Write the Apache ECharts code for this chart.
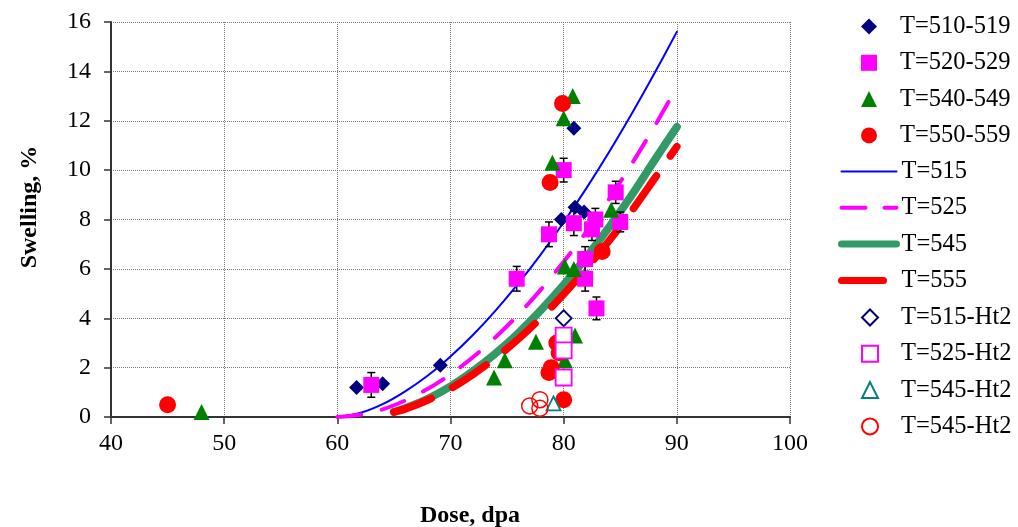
<!DOCTYPE html>
<html>
<head>
<meta charset="utf-8">
<title>Swelling vs Dose</title>
<script src="https://cdn.jsdelivr.net/npm/echarts/dist/echarts.min.js"></script>
<style>
  html, body { margin: 0; padding: 0; background: #fff; }
  #chart { width: 1018px; height: 527px; }
</style>
</head>
<body>
<div id="chart"></div>
<script>
// Measured swelling (%) against dose (dpa), grouped by irradiation temperature
const t510_519 = [[61.7, 1.2], [64.0, 1.35], [69.1, 2.1], [79.8, 8.0], [81.0, 8.5], [81.8, 8.3], [80.9, 11.7]];
const t520_529 = [[63.0, 1.3], [75.85, 5.6], [78.7, 7.4], [80.0, 10.0], [80.9, 7.85], [82.8, 8.0], [82.5, 7.6],
                  [84.6, 9.1], [85.0, 7.9], [81.9, 6.4], [81.9, 5.6], [82.9, 4.4]];
const t520_529_err = [0.5, 0.5, 0.5, 0.48, 0.5, 0.45, 0.45, 0.45, 0.4, 0.5, 0.5, 0.46];
const t540_549 = [[48.0, 0.2], [80.8, 13.0], [80.0, 12.1], [79.0, 10.3], [84.2, 8.4], [80.1, 6.1], [80.9, 6.0],
                  [77.55, 3.05], [74.8, 2.3], [73.85, 1.6], [81.0, 3.3], [80.1, 2.3]];
const t550_559 = [[45.0, 0.5], [79.9, 12.7], [78.8, 9.5], [83.4, 6.7], [79.4, 3.0], [79.6, 2.6], [78.9, 2.0],
                  [78.7, 1.8], [80.0, 0.7]];

// Model curves
const fit515 = [[60, 0], [62, 0.16], [64, 0.52], [66, 1.04], [68, 1.68], [70, 2.45], [72, 3.33], [74, 4.32],
                [76, 5.41], [78, 6.6], [80, 7.89], [82, 9.26], [84, 10.72], [86, 12.27], [88, 13.9], [90, 15.6]];
const fit525 = [[60, 0], [62, 0.09], [64, 0.31], [66, 0.67], [68, 1.14], [70, 1.73], [72, 2.43], [74, 3.24],
                [76, 4.15], [78, 5.17], [80, 6.29], [82, 7.5], [84, 8.82], [86, 10.24], [88, 11.75], [90, 13.36]];
const fit545 = [[65, 0.21], [66, 0.36], [68, 0.74], [70, 1.24], [72, 1.86], [74, 2.58], [76, 3.4], [78, 4.33],
                [80, 5.35], [82, 6.47], [84, 7.68], [86, 8.98], [88, 10.38], [90, 11.75]];
const fit555 = [[65, 0.2], [66, 0.33], [68, 0.69], [70, 1.15], [72, 1.73], [74, 2.4], [76, 3.16], [78, 4.02],
                [80, 4.97], [82, 6.01], [84, 7.13], [86, 8.34], [88, 9.64], [90, 10.95]];

// Specimens after the Ht2 heat treatment
const t515_ht2 = [[80.0, 4.0]];
const t525_ht2 = [[80.0, 3.3], [80.0, 2.7], [80.0, 1.6]];
const t545_ht2 = [[79.1, 0.55]];
const t545_ht2b = [[77.0, 0.45], [77.9, 0.7], [77.9, 0.35]];

const markerNames = ['T=510-519', 'T=520-529', 'T=540-549', 'T=550-559'];
const curveNames = ['T=515', 'T=525', 'T=545', 'T=555'];
const ht2Names = ['T=515-Ht2', 'T=525-Ht2', 'T=545-Ht2', 'T=545-Ht2 '];

const serif = 'Liberation Serif, Times New Roman, serif';

const errData = t520_529.map((p, i) => [p[0], p[1] - t520_529_err[i], p[1] + t520_529_err[i]]);

function scatter(name, data, symbol, size, itemStyle) {
  return { name, type: 'scatter', data, symbol, symbolSize: size, itemStyle: Object.assign({ opacity: 1 }, itemStyle), z: 5 };
}
function curve(name, data, color, width, type) {
  return {
    name, type: 'line', data, smooth: 0.3, symbol: 'none', z: 3,
    lineStyle: { color, width, type, cap: 'round' }, itemStyle: { color }
  };
}

const legendText = { color: '#000', fontFamily: serif, fontSize: 24.5, lineHeight: 22 };
// marker keys: small square icon, text pushed to the shared text column
function markerLegend(data, top) {
  return {
    orient: 'vertical', left: 856, top, itemWidth: 16, itemHeight: 16, itemGap: 11.3, data,
    textStyle: Object.assign({ padding: [0, 0, 0, 18] }, legendText)
  };
}
// curve keys: stroke only, drawn with the curve's own weight
const curveKeyStyles = [
  { width: 2, type: 'solid' },
  { width: 4, type: [24, 19] },
  { width: 7, type: 'solid' },
  { width: 7, type: [42, 40] }
];

const chart = echarts.init(document.getElementById('chart'));
chart.setOption({
  animation: false,
  backgroundColor: '#fff',
  grid: { left: 111, right: 228, top: 22, bottom: 110, containLabel: false },
  xAxis: {
    type: 'value', min: 40, max: 100, interval: 10,
    axisLine: { onZero: false, lineStyle: { color: '#333', width: 2 } },
    axisTick: { length: 7, lineStyle: { color: '#333', width: 1.5 } },
    axisLabel: { margin: 15, color: '#000', fontFamily: serif, fontSize: 24 },
    splitLine: { show: true, lineStyle: { color: '#777', type: 'dotted', width: 1 } }
  },
  yAxis: {
    type: 'value', min: 0, max: 16, interval: 2,
    axisLine: { show: true, lineStyle: { color: '#333', width: 2 } },
    axisTick: { show: true, length: 7, lineStyle: { color: '#333', width: 1.5 } },
    axisLabel: { margin: 20, color: '#000', fontFamily: serif, fontSize: 24 },
    splitLine: { show: true, lineStyle: { color: '#777', type: 'dotted', width: 1 } }
  },
  legend: [
    markerLegend(markerNames, 9),
    {
      orient: 'vertical', left: 833, top: 154, itemWidth: 55, itemHeight: 16, itemGap: 11.3,
      data: curveNames.map((n, i) => ({
        name: n, itemStyle: { opacity: 0 },
        lineStyle: Object.assign({ cap: 'round' }, curveKeyStyles[i])
      })),
      textStyle: legendText
    },
    markerLegend(ht2Names, 300)
  ],
  graphic: [
    { type: 'text', x: 30, y: 207, rotation: Math.PI / 2,
      style: { text: 'Swelling, %', font: 'bold 24px ' + serif, fill: '#000', align: 'center', verticalAlign: 'middle' } },
    { type: 'text', x: 470, y: 516,
      style: { text: 'Dose, dpa', font: 'bold 24px ' + serif, fill: '#000', align: 'center', verticalAlign: 'middle' } }
  ],
  series: [
    curve('T=515', fit515, '#0000ff', 2, 'solid'),
    curve('T=525', fit525, '#ff00ff', 4, [24, 21]),
    curve('T=545', fit545, '#339966', 8, 'solid'),
    curve('T=555', fit555, '#ff0000', 7.5, [40, 24]),
    {
      type: 'custom', z: 4, data: errData, encode: { x: 0, y: [1, 2] }, silent: true,
      renderItem(params, api) {
        const top = api.coord([api.value(0), api.value(2)]);
        const bot = api.coord([api.value(0), api.value(1)]);
        const st = { stroke: '#000', lineWidth: 1.5 };
        return {
          type: 'group', children: [
            { type: 'line', shape: { x1: top[0], y1: top[1], x2: bot[0], y2: bot[1] }, style: st },
            { type: 'line', shape: { x1: top[0] - 4, y1: top[1], x2: top[0] + 4, y2: top[1] }, style: st },
            { type: 'line', shape: { x1: bot[0] - 4, y1: bot[1], x2: bot[0] + 4, y2: bot[1] }, style: st }
          ]
        };
      }
    },
    scatter('T=510-519', t510_519, 'diamond', 15, { color: '#000080' }),
    scatter('T=520-529', t520_529, 'rect', 16, { color: '#ff00ff' }),
    scatter('T=540-549', t540_549, 'triangle', 16, { color: '#008000' }),
    scatter('T=550-559', t550_559, 'circle', 17, { color: '#ff0000' }),
    scatter('T=515-Ht2', t515_ht2, 'diamond', 16, { color: '#fff', borderColor: '#000080', borderWidth: 1.8 }),
    scatter('T=525-Ht2', t525_ht2, 'rect', 16, { color: '#fff', borderColor: '#ff00ff', borderWidth: 1.8 }),
    scatter('T=545-Ht2', t545_ht2, 'triangle', 14, { color: '#fff', borderColor: '#008080', borderWidth: 1.8 }),
    scatter('T=545-Ht2 ', t545_ht2b, 'circle', 16, { color: 'rgba(255,255,255,0)', borderColor: '#ff0000', borderWidth: 1.5 })
  ]
});
</script>
</body>
</html>
